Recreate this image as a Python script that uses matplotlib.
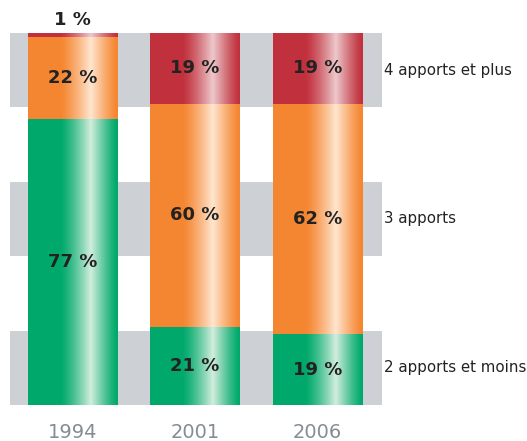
import numpy as np
import matplotlib
matplotlib.use("Agg")
import matplotlib.pyplot as plt
from matplotlib.colors import to_rgb

years = ["1994", "2001", "2006"]
categories = ["2 apports et moins", "3 apports", "4 apports et plus"]
low = [77, 21, 19]
mid = [22, 60, 62]
high = [1, 19, 19]

colors = ["#00A96B", "#F58631", "#C1313D"]
lights = ["#D2EEDD", "#FFE6D0", "#EDC9CC"]
band_color = "#CDD1D5"


def gradient_row(base, light, n=200):
    u = np.linspace(0, 1, n)
    t = np.zeros(n)
    up = (u > 0.36) & (u <= 0.70)
    t[up] = ((u[up] - 0.36) / 0.34) ** 1.3
    down = u > 0.70
    t[down] = np.clip(1 - (u[down] - 0.70) / 0.29, 0, 1) ** 1.2
    b = np.array(to_rgb(base))
    l = np.array(to_rgb(light))
    return (b[None, :] * (1 - t[:, None]) + l[None, :] * t[:, None])[None, :, :]


fig = plt.figure(figsize=(5.27, 4.41), dpi=100)
ax = fig.add_axes([0, 0, 1, 1])
ax.set_xlim(-0.592, 3.71)
ax.set_ylim(-9.68, 108.87)
ax.axis("off")

x = np.arange(len(years))
width = 0.727

# gray background bands
for y0 in (0, 40, 80):
    ax.fill_between([-0.51, 2.527], y0, y0 + 20, color=band_color, lw=0, zorder=0)

series = [low, mid, high]
bottoms = np.zeros(len(years))
for s, vals in enumerate(series):
    grad = gradient_row(colors[s], lights[s])
    for i, v in enumerate(vals):
        b = bottoms[i]
        ax.imshow(grad, extent=[x[i] - width / 2, x[i] + width / 2, b, b + v],
                  aspect="auto", zorder=2, interpolation="bilinear")
        lab = f"{v} %"
        if v < 5:
            ax.text(x[i], b + v + 3.5, lab, ha="center", va="center",
                    fontsize=13, fontweight="bold", color="#222222", zorder=3)
        else:
            ax.text(x[i], b + v / 2, lab, ha="center", va="center",
                    fontsize=13, fontweight="bold", color="#222222", zorder=3)
    bottoms += np.array(vals)

for i, yr in enumerate(years):
    ax.text(x[i], -7.3, yr, ha="center", va="center", fontsize=14,
            color="#848C94", fontfamily="DejaVu Sans", fontweight="normal")

for k, cat in enumerate(categories):
    ax.text(2.545, 10 + 40 * k, cat, ha="left", va="center", fontsize=10.8,
            color="#222222", fontfamily="DejaVu Sans")

fig.savefig("out.png", dpi=100)
